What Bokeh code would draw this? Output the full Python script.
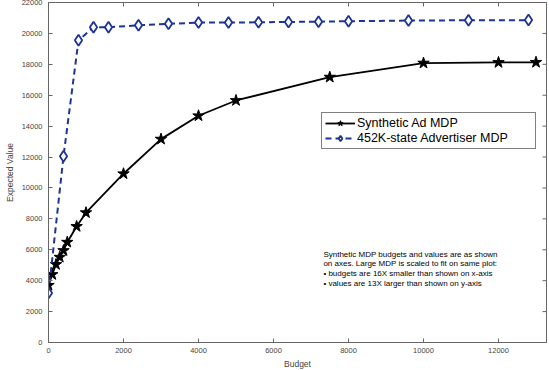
import math
from bokeh.plotting import figure
from bokeh.models import Range1d, Label, FixedTicker, Legend, LegendItem
from bokeh.embed import file_html
from bokeh.resources import INLINE

# Synthetic Ad MDP
budget_syn = [0, 100, 200, 300, 400, 500, 750, 1000, 2000, 3000, 4000, 5000, 7500, 10000, 12000, 13000]
value_syn = [3700, 4400, 5050, 5520, 5950, 6490, 7510, 8400, 10920, 13160, 14670, 15660, 17170, 18080, 18120, 18130]

# 452K-state Advertiser MDP (scaled)
budget_adv = [0, 400, 800, 1200, 1600, 2400, 3200, 4000, 4800, 5600, 6400, 7200, 8000, 9600, 11200, 12800]
value_adv = [3200, 12050, 19550, 20400, 20400, 20520, 20620, 20700, 20700, 20720, 20740, 20760, 20790, 20830, 20850, 20860]

x_ticks = [0, 2000, 4000, 6000, 8000, 10000, 12000]
y_ticks = [0, 2000, 4000, 6000, 8000, 10000, 12000, 14000, 16000, 18000, 20000, 22000]
x_max = 13280
y_max = 22000

series_names = ["Synthetic Ad MDP", "452K-state Advertiser MDP"]
note_lines = [
    "Synthetic MDP budgets and values are as shown",
    "on axes. Large MDP is scaled to fit on same plot:",
    "\u2022 budgets are 16X smaller than shown on x-axis",
    "\u2022 values are 13X larger than shown on y-axis",
]

FONT = "Liberation Sans"
AXC = "#666666"
TXC = "#444444"
BLUE = "#1c3494"

p = figure(width=557, height=379, output_backend="svg", toolbar_location=None,
           x_range=Range1d(0, x_max), y_range=Range1d(0, y_max),
           min_border_left=56, min_border_right=3, min_border_top=10, min_border_bottom=27)
p.styles = {"margin": "-8px"}
p.grid.visible = False
p.outline_line_color = AXC
p.outline_line_width = 1
p.background_fill_color = "white"
p.border_fill_color = "white"

for ax in (p.xaxis[0], p.yaxis[0]):
    ax.axis_line_color = AXC
    ax.major_tick_line_color = AXC
    ax.major_tick_in = 4
    ax.major_tick_out = 0
    ax.minor_tick_line_color = None
    ax.major_label_text_font = FONT
    ax.major_label_text_font_size = "7.5px"
    ax.major_label_text_color = TXC
    ax.axis_label_text_font = FONT
    ax.axis_label_text_font_size = "8.5px"
    ax.axis_label_text_font_style = "normal"
    ax.axis_label_text_color = TXC

p.xaxis[0].ticker = FixedTicker(ticks=x_ticks)
p.yaxis[0].ticker = FixedTicker(ticks=y_ticks)
p.xaxis[0].axis_label = "Budget"
p.yaxis[0].axis_label = "Expected Value"
p.xaxis[0].major_label_standoff = 5
p.yaxis[0].major_label_standoff = 6
p.xaxis[0].axis_label_standoff = 3
p.yaxis[0].axis_label_standoff = 4

# inward ticks on the top and right edges of the box
p.scatter(x_ticks, [y_max] * len(x_ticks), marker="dash", size=8, angle=math.pi / 2,
          line_color=AXC, line_width=1)
p.scatter([x_max] * len(y_ticks), y_ticks, marker="dash", size=8,
          line_color=AXC, line_width=1)

l1 = p.line(budget_syn, value_syn, line_color="black", line_width=1.8)
m1 = p.scatter(budget_syn, value_syn, marker="star", size=12, fill_color="black", line_color="black")
l2 = p.line(budget_adv, value_adv, line_color=BLUE, line_width=2, line_dash="6 4")
m2 = p.scatter(budget_adv, value_adv, marker="diamond", size=11, fill_color="white",
               line_color=BLUE, line_width=1.8)

legend = Legend(items=[LegendItem(label=series_names[0], renderers=[l1, m1]),
                       LegendItem(label=series_names[1], renderers=[l2, m2])],
                location=(273, 193), border_line_color="black", border_line_width=1,
                background_fill_alpha=1, label_text_font=FONT, label_text_font_size="12.5px",
                label_text_color="black", glyph_width=30, glyph_height=14, label_height=14,
                label_width=175, label_standoff=2, padding=3, spacing=1, margin=0)
p.add_layout(legend, "center")

ys = [5695, 5093, 4446, 3800]
for txt, yy in zip(note_lines, ys):
    p.add_layout(Label(x=7330, y=yy, text=txt, text_font=FONT, text_font_size="8px",
                       text_color="black", text_baseline="middle"))

open("out.html", "w").write(file_html(p, INLINE))
